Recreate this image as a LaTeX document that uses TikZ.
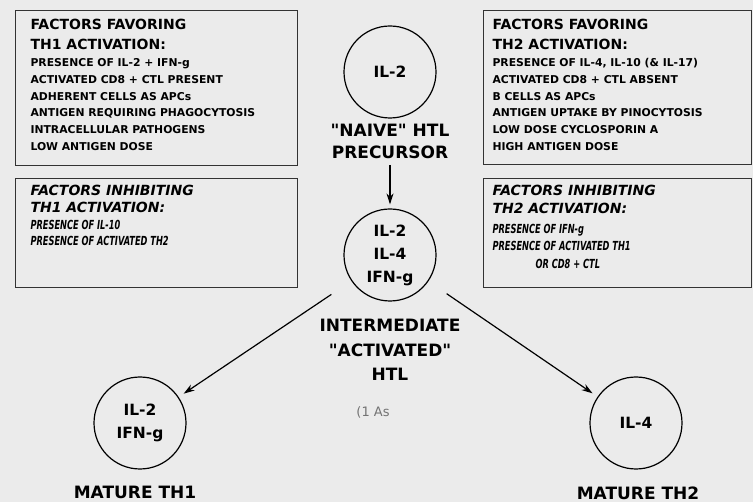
\documentclass[tikz,border=0pt]{standalone}
\usepackage{fontspec}
\setmainfont{DejaVu Sans}[Ligatures=TeXOff]
\newfontfamily\inhfont{DejaVu Sans}[FakeStretch=0.66, Ligatures=TeXOff]
\usetikzlibrary{arrows.meta, positioning}

\tikzset{
  cell/.style={draw, circle, line width=1.2pt, minimum size=92pt, inner sep=0pt, align=center,
    font=\bfseries\fontsize{15.5}{23}\selectfont},
  stage/.style={align=center, font=\bfseries\fontsize{17}{22}\selectfont},
  factorbox/.style={draw=black!80, line width=0.9pt, anchor=north west, inner sep=0pt},
  boxhead/.style={anchor=base west, font=\bfseries\fontsize{14}{20}\selectfont},
  boxitem/.style={anchor=base west, font=\bfseries\fontsize{10.8}{16}\selectfont},
  inhhead/.style={anchor=base west, font=\bfseries\itshape\fontsize{14}{20}\selectfont},
  inhitem/.style={anchor=base west, font=\inhfont\bfseries\itshape\fontsize{12.5}{16}\selectfont},
}

\begin{document}
\begin{tikzpicture}[x=1pt, y=-1pt, >={Stealth[length=11pt, width=7pt]}]
    \fill[black!8] (0,0) rectangle (753,502);
    \useasboundingbox (0,0) rectangle (753,502);

    % factor boxes
    \node[factorbox, minimum width=282pt, minimum height=155pt] (fav1) at (15,10) {};
    \node[factorbox, minimum width=282pt, minimum height=109pt] (inh1) at (15,178) {};
    \node[factorbox, minimum width=268pt, minimum height=154pt] (fav2) at (483,10) {};
    \node[factorbox, minimum width=268pt, minimum height=109pt] (inh2) at (483,178) {};

    % TH1 side
    \node[boxhead] (fav1-h1) at (27,30) {FACTORS FAVORING};
    \node[boxhead] (fav1-h2) at (27,50) {TH1 ACTIVATION:};
    \foreach \txt [count=\i] in {PRESENCE OF IL-2 + IFN-g, ACTIVATED CD8 + CTL PRESENT,
        ADHERENT CELLS AS APCs, ANTIGEN REQUIRING PHAGOCYTOSIS, INTRACELLULAR PATHOGENS,
        LOW ANTIGEN DOSE}
        \node[boxitem] (fav1-\i) at (27,50+16.7*\i) {\txt};
    \node[inhhead] (inh1-h1) at (27,196) {FACTORS INHIBITING};
    \node[inhhead] (inh1-h2) at (27,213) {TH1 ACTIVATION:};
    \node[inhitem] (inh1-1) at (27,230) {PRESENCE OF IL-10};
    \node[inhitem] (inh1-2) at (27,246) {PRESENCE OF ACTIVATED TH2};

    % TH2 side
    \node[boxhead] (fav2-h1) at (489,30) {FACTORS FAVORING};
    \node[boxhead] (fav2-h2) at (489,50) {TH2 ACTIVATION:};
    \foreach \txt [count=\i] in {{PRESENCE OF IL-4, IL-10 (\& IL-17)}, ACTIVATED CD8 + CTL ABSENT,
        B CELLS AS APCs, ANTIGEN UPTAKE BY PINOCYTOSIS, LOW DOSE CYCLOSPORIN A,
        HIGH ANTIGEN DOSE}
        \node[boxitem] (fav2-\i) at (489,50+16.7*\i) {\txt};
    \node[inhhead] (inh2-h1) at (489,196) {FACTORS INHIBITING};
    \node[inhhead] (inh2-h2) at (489,214) {TH2 ACTIVATION:};
    \node[inhitem] (inh2-1) at (489,234) {PRESENCE OF IFN-g};
    \node[inhitem] (inh2-2) at (489,251) {PRESENCE OF ACTIVATED TH1};
    \node[inhitem] (inh2-3) at (532,269) {OR CD8 + CTL};

    % cells
    \node[cell] (naive) at (390,72) {IL-2};
    \node[stage] (naivelbl) at (390,141) {"NAIVE" HTL\\PRECURSOR};
    \node[cell] (mid) at (390,255) {IL-2\\IL-4\\IFN-g};
    \node[stage, font=\bfseries\fontsize{17}{24.5}\selectfont] (midlbl) at (390,350)
        {INTERMEDIATE\\"ACTIVATED"\\HTL};
    \node[cell] (th1) at (140,423) {IL-2\\IFN-g};
    \node[stage] (th1lbl) at (135,492) {MATURE TH1};
    \node[cell] (th2) at (636,423) {IL-4};
    \node[stage] (th2lbl) at (638,493) {MATURE TH2};
    \node[text=black!55, font=\fontsize{13}{13}\selectfont] (note) at (373,412) {(1 As};

    % arrows
    \draw[->, line width=1.2pt, shorten <=3pt, shorten >=4pt] (naivelbl) -- (mid);
    \draw[->, line width=1.2pt, shorten <=24pt, shorten >=6pt] (mid) -- (th1);
    \draw[->, line width=1.2pt, shorten <=22pt, shorten >=6pt] (mid) -- (th2);
\end{tikzpicture}
\end{document}
